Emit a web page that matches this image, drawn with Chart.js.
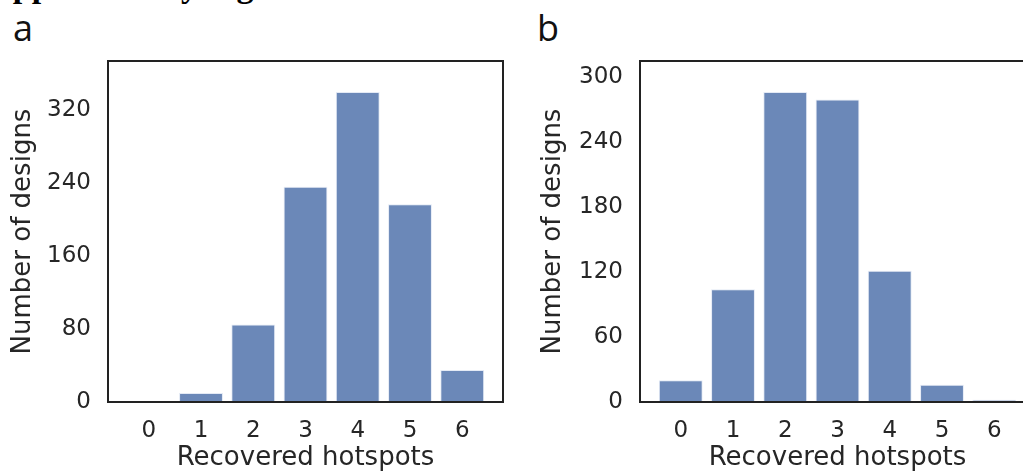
<!DOCTYPE html>
<html>
<head>
<meta charset="utf-8">
<script src="https://cdn.jsdelivr.net/npm/chart.js@4/dist/chart.umd.min.js"></script>
<style>
html,body{margin:0;padding:0;background:#fff;overflow:hidden;width:1023px;height:473px;}
#wrap{position:relative;width:1023px;height:473px;overflow:hidden;background:#fff;}
canvas{position:absolute;top:0;}
#ca{left:0;}
#cb{left:530px;}
.panel{position:absolute;font-family:"Open Sans",sans-serif;font-size:36px;line-height:36px;color:#111;}
#heading{position:absolute;left:-25px;top:-31px;font-family:"Liberation Serif",serif;font-weight:bold;font-size:34px;line-height:34px;white-space:nowrap;color:#000;}
</style>
</head>
<body>
<div id="wrap">
  <div id="heading">Supplementary Figure</div>
  <div class="panel" style="left:13px;top:10px;">a</div>
  <div class="panel" style="left:537px;top:10px;">b</div>
  <canvas id="ca" width="520" height="473"></canvas>
  <canvas id="cb" width="520" height="473"></canvas>
</div>
<script>
// ---- data ----
const hotspots = [0, 1, 2, 3, 4, 5, 6];
const designsA = [0, 10, 85, 236, 340, 217, 35];
const designsB = [20, 104, 286, 279, 121, 16, 2];
const yTicksA = [0, 80, 160, 240, 320];
const yTicksB = [0, 60, 120, 180, 240, 300];
const yMaxA = 374;
const yMaxB = 314.6;
const xLabel = 'Recovered hotspots';
const yLabel = 'Number of designs';

const barColor = '#6b88b8';
const textColor = '#262626';
const fontFamily = '"DejaVu Sans", sans-serif';

const framePlugin = {
  id: 'frame',
  afterDatasetsDraw(chart) {
    const {ctx, chartArea: a} = chart;
    ctx.save();
    ctx.strokeStyle = '#222222';
    ctx.lineWidth = 2;
    ctx.strokeRect(a.left, a.top, a.right - a.left, a.bottom - a.top);
    ctx.restore();
  }
};

function makeChart(id, values, yTicks, yMax, yAxisWidth, rightPad) {
  const data = hotspots.map((h, i) => ({x: h, y: values[i]}));
  return new Chart(document.getElementById(id), {
    type: 'bar',
    data: {
      datasets: [{
        data: data,
        backgroundColor: barColor,
        borderColor: 'rgba(225,232,244,0.9)',
        borderWidth: 1,
        barPercentage: 0.84,
        categoryPercentage: 1.0
      }]
    },
    options: {
      responsive: false,
      animation: false,
      devicePixelRatio: 1,
      layout: {padding: {top: 61, right: rightPad, bottom: 0, left: 0}},
      plugins: {legend: {display: false}, tooltip: {enabled: false}, title: {display: false}},
      scales: {
        x: {
          type: 'linear',
          offset: false,
          min: -0.78,
          max: 6.78,
          grid: {display: false, drawTicks: false, offset: false},
          border: {display: false},
          afterBuildTicks(scale) { scale.ticks = hotspots.map(v => ({value: v})); },
          afterFit(scale) { scale.height = 71; },
          ticks: {
            color: textColor,
            font: {family: fontFamily, size: 23},
            padding: 15,
            maxRotation: 0,
            autoSkip: false,
            callback: (v) => String(v)
          },
          title: {
            display: true,
            text: xLabel,
            color: textColor,
            font: {family: fontFamily, size: 26, lineHeight: 1},
            padding: {top: 0, bottom: 2}
          }
        },
        y: {
          type: 'linear',
          min: 0,
          max: yMax,
          grid: {display: false, drawTicks: false},
          border: {display: false},
          afterBuildTicks(scale) { scale.ticks = yTicks.map(v => ({value: v})); },
          afterFit(scale) { scale.width = yAxisWidth; },
          ticks: {
            color: textColor,
            font: {family: fontFamily, size: 23},
            padding: 17,
            autoSkip: false,
            callback: (v) => String(v)
          },
          title: {
            display: true,
            text: yLabel,
            color: textColor,
            font: {family: fontFamily, size: 26, lineHeight: 1},
            padding: {top: 10, bottom: 0}
          }
        }
      }
    },
    plugins: [framePlugin]
  });
}

makeChart('ca', designsA, yTicksA, yMaxA, 108, 17);
makeChart('cb', designsB, yTicksB, yMaxB, 110, 15);
</script>
</body>
</html>
